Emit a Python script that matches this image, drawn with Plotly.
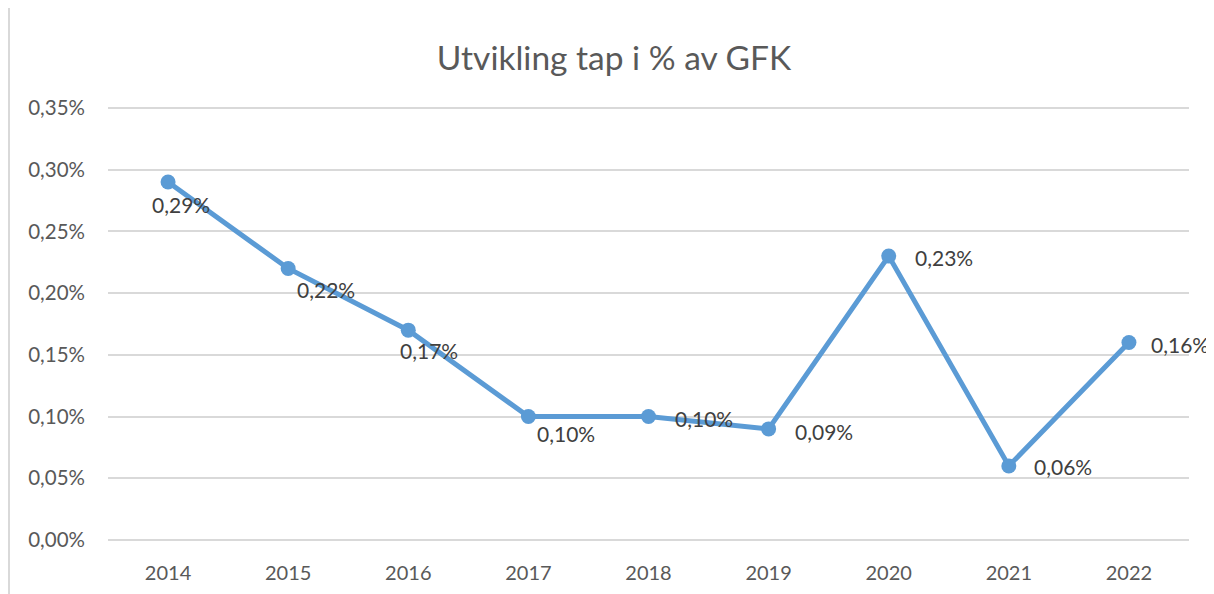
import plotly.graph_objects as go

years = ["2014", "2015", "2016", "2017", "2018", "2019", "2020", "2021", "2022"]
values = [0.0029, 0.0022, 0.0017, 0.0010, 0.0010, 0.0009, 0.0023, 0.0006, 0.0016]
y_ticks = [0, 0.0005, 0.0010, 0.0015, 0.0020, 0.0025, 0.0030, 0.0035]

# label offsets (style only)
x_shifts = [-18, 7, -10, 7, 24, 24, 24, 23, 20]
y_shifts = [-22, -21, -20, -17, -2, -3, -1, -1, -2]

color = "#5b9bd5"
font = "Lato, 'Open Sans', sans-serif"
pad = 0.0035 * 2 / 432

W, H = 1206, 586  # page body has an 8px margin
L, T, PW, PH = 100, 100, 1081, 432

fig = go.Figure()
fig.add_trace(go.Scatter(
    x=years, y=values, mode="lines+markers",
    line=dict(color=color, width=5),
    marker=dict(color=color, size=15),
    hoverinfo="skip", showlegend=False,
))

for i, v in enumerate(values):
    fig.add_annotation(
        x=i, y=v, text=f"{v*100:.2f}%".replace(".", ","),
        showarrow=False, xanchor="left", yanchor="middle",
        xshift=x_shifts[i], yshift=y_shifts[i],
        font=dict(family=font, size=21, color="#404040"),
    )

# chart border
fig.add_shape(type="rect", xref="paper", yref="paper",
              x0=(1 - L) / PW, x1=(1240 - L) / PW,
              y0=-(H - T - PH + 40) / PH, y1=(T + PH - 2) / PH,
              line=dict(color="#d9d9d9", width=2), layer="below")

fig.update_layout(
    width=W, height=H,
    margin=dict(l=L, r=W - L - PW, t=T - 2, b=H - T - PH - 2, autoexpand=False),
    paper_bgcolor="white", plot_bgcolor="white",
    separators=",.",
    title=dict(text="Utvikling tap i % av GFK", x=606 / W, xanchor="center",
               y=1 - 50 / H, yanchor="middle", yref="container",
               font=dict(family=font, size=33.5, color="#595959")),
    xaxis=dict(type="category", range=[-0.5, 8.5], showgrid=False,
               showline=False, zeroline=False, ticks="", automargin=False,
               ticklabelstandoff=17,
               tickfont=dict(family=font, size=20, color="#595959")),
    yaxis=dict(range=[-pad, 0.0035 + pad], tickvals=y_ticks, tickformat=".2%",
               showgrid=True, gridcolor="#d9d9d9", gridwidth=1.5,
               zeroline=False, showline=False, ticks="", automargin=False,
               ticklabelstandoff=22,
               tickfont=dict(family=font, size=20.5, color="#595959")),
)

fig.write_html("out.html")
